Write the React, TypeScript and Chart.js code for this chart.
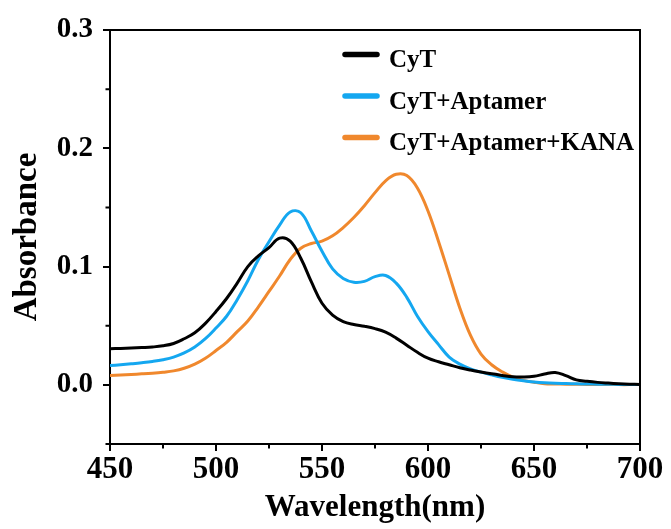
import { useEffect, useRef } from "react";
import { Chart, registerables } from "chart.js";

Chart.register(...registerables);

const wavelengths = [
  450, 455, 460, 465, 470, 475, 480, 485, 490, 495,
  500, 505, 510, 515, 520, 525, 530, 535, 540, 545,
  550, 555, 560, 565, 570, 575, 580, 585, 590, 595,
  600, 605, 610, 615, 620, 625, 630, 635, 640, 645,
  650, 655, 660, 665, 670, 675, 680, 685, 690, 695,
  700,
];

const cyt = [
  0.0305, 0.0308, 0.0311, 0.0315, 0.032, 0.033, 0.035, 0.039, 0.044, 0.052,
  0.062, 0.073, 0.086, 0.1, 0.109, 0.116, 0.124, 0.1215, 0.107, 0.087,
  0.069, 0.059, 0.0535, 0.051, 0.0495, 0.0475, 0.0445, 0.0395, 0.0335, 0.0275,
  0.0225, 0.0195, 0.017, 0.0145, 0.0125, 0.0108, 0.0093, 0.008, 0.0068, 0.0066,
  0.0072, 0.0092, 0.0105, 0.0078, 0.0042, 0.003, 0.0021, 0.0015, 0.001, 0.0006,
  0.0003,
];

const cytAptamer = [
  0.0163, 0.017, 0.0178, 0.0187, 0.0198, 0.0213, 0.0235, 0.027, 0.032, 0.039,
  0.048, 0.058, 0.072, 0.088, 0.106, 0.121, 0.135, 0.1462, 0.1455, 0.13,
  0.113, 0.098, 0.09, 0.0868, 0.0875, 0.0915, 0.0925, 0.086, 0.074, 0.058,
  0.045, 0.034, 0.0235, 0.0175, 0.0135, 0.0108, 0.0085, 0.0064, 0.0047, 0.0034,
  0.0024, 0.0017, 0.0013, 0.0011, 0.0009, 0.0007, 0.0006, 0.0005, 0.0004, 0.0003,
  0.0003,
];

const cytAptamerKana = [
  0.0079, 0.0083, 0.0088, 0.0093, 0.0099, 0.0107, 0.0118, 0.014, 0.0175, 0.0225,
  0.029, 0.036, 0.045, 0.054, 0.066, 0.079, 0.092, 0.106, 0.1155, 0.1195,
  0.1215, 0.126, 0.133, 0.1415, 0.1515, 0.1625, 0.1725, 0.178, 0.177, 0.1665,
  0.147, 0.121, 0.093, 0.065, 0.042, 0.026, 0.017, 0.011, 0.0066, 0.0038,
  0.0022, 0.001, 0.0008, 0.0006, 0.0005, 0.0004, 0.0003, 0.0003, 0.0002, 0.0002,
  0.0002,
];

const seriesLabels = ["CyT", "CyT+Aptamer", "CyT+Aptamer+KANA"];
const seriesColors = ["#000000", "#14A7F0", "#F0882D"];
const seriesValues = [cyt, cytAptamer, cytAptamerKana];

const xMajorTicks = [450, 500, 550, 600, 650, 700];
const xMinorTicks = [475, 525, 575, 625, 675];
const yMajorTicks = [0, 0.1, 0.2, 0.3];
const yMinorTicks = [-0.05, 0.05, 0.15, 0.25];

const xTitle = "Wavelength(nm)";
const yTitle = "Absorbance";

const FONT = '"Liberation Serif", "Times New Roman", serif';

const framePlugin = {
  id: "frameAndLegend",
  afterDraw(chart: any) {
    const { ctx, chartArea } = chart;
    const { left, right, top, bottom } = chartArea;
    const xs = chart.scales.x;
    const ys = chart.scales.y;
    ctx.save();
    ctx.strokeStyle = "#000";
    ctx.lineWidth = 2;
    ctx.lineCap = "square";
    ctx.beginPath();
    ctx.moveTo(left, top);
    ctx.lineTo(right, top);
    ctx.lineTo(right, bottom);
    ctx.stroke();

    ctx.lineCap = "butt";
    ctx.beginPath();
    xMinorTicks.forEach((v) => {
      const px = xs.getPixelForValue(v);
      ctx.moveTo(px, bottom);
      ctx.lineTo(px, bottom + 4.5);
    });
    yMinorTicks.forEach((v) => {
      const py = ys.getPixelForValue(v);
      ctx.moveTo(left, py);
      ctx.lineTo(left - 4.5, py);
    });
    ctx.stroke();

    // legend
    const lx0 = left + 235;
    const lx1 = left + 267;
    const tx = left + 279;
    const rowY = [top + 24.5, top + 66, top + 107.5];
    ctx.font = `bold 25px ${FONT}`;
    ctx.textAlign = "left";
    ctx.textBaseline = "alphabetic";
    seriesLabels.forEach((label, i) => {
      ctx.strokeStyle = seriesColors[i];
      ctx.lineWidth = 5.5;
      ctx.lineCap = "round";
      ctx.beginPath();
      ctx.moveTo(lx0, rowY[i]);
      ctx.lineTo(lx1, rowY[i]);
      ctx.stroke();
      ctx.fillStyle = "#000";
      ctx.fillText(label, tx, rowY[i] + 12.5);
    });
    ctx.restore();
  },
};

export default function App() {
  const canvasRef = useRef<HTMLCanvasElement | null>(null);

  useEffect(() => {
    const canvas = canvasRef.current;
    if (!canvas) return;
    const datasets = seriesLabels.map((label, i) => ({
      label,
      data: wavelengths.map((w, j) => ({ x: w, y: seriesValues[i][j] })),
      borderColor: seriesColors[i],
      backgroundColor: seriesColors[i],
      borderWidth: 3,
      pointRadius: 0,
      tension: 0.4,
      fill: false,
    }));

    const chart = new Chart(canvas, {
      type: "line",
      data: { datasets },
      options: {
        responsive: false,
        animation: false,
        devicePixelRatio: 1,
        layout: { padding: { top: 30, right: 31, left: 0, bottom: 0 } },
        plugins: {
          legend: { display: false },
          tooltip: { enabled: false },
        },
        scales: {
          x: {
            type: "linear",
            min: 450,
            max: 700,
            afterBuildTicks: (s: any) => {
              s.ticks = xMajorTicks.map((v) => ({ value: v }));
            },
            afterFit: (s: any) => {
              s.height = 85;
            },
            grid: {
              drawOnChartArea: false,
              drawTicks: true,
              tickLength: 7,
              tickWidth: 2,
              lineWidth: 2,
              tickColor: "#000",
              color: "#000",
            },
            border: { display: true, color: "#000", width: 2 },
            ticks: {
              color: "#000",
              font: { family: FONT, weight: "bold", size: 31 },
              padding: 0,
              maxRotation: 0,
              autoSkip: false,
              callback: (v: any) => String(v),
            },
            title: {
              display: true,
              text: xTitle,
              color: "#000",
              font: { family: FONT, weight: "bold", size: 31, lineHeight: 1 },
              padding: { top: 0, bottom: 6 },
            },
          },
          y: {
            type: "linear",
            min: -0.05,
            max: 0.3,
            afterBuildTicks: (s: any) => {
              s.ticks = yMajorTicks.map((v) => ({ value: v }));
            },
            afterFit: (s: any) => {
              s.width = 110;
            },
            grid: {
              drawOnChartArea: false,
              drawTicks: true,
              tickLength: 7,
              tickWidth: 2,
              lineWidth: 2,
              tickColor: "#000",
              color: "#000",
            },
            border: { display: true, color: "#000", width: 2 },
            ticks: {
              color: "#000",
              font: { family: FONT, weight: "bold", size: 29 },
              padding: 10,
              autoSkip: false,
              callback: (v: any) => Number(v).toFixed(1),
            },
            title: {
              display: true,
              text: yTitle,
              color: "#000",
              font: { family: FONT, weight: "bold", size: 33, lineHeight: 1 },
              padding: { top: 11, bottom: 0 },
            },
          },
        },
      },
      plugins: [framePlugin],
    });
    return () => chart.destroy();
  }, []);

  return (
    <div style={{ position: "fixed", left: 0, top: 0, width: 671, height: 529, background: "#fff" }}>
      <canvas ref={canvasRef} width={671} height={529} style={{ display: "block", width: 671, height: 529 }} />
    </div>
  );
}
